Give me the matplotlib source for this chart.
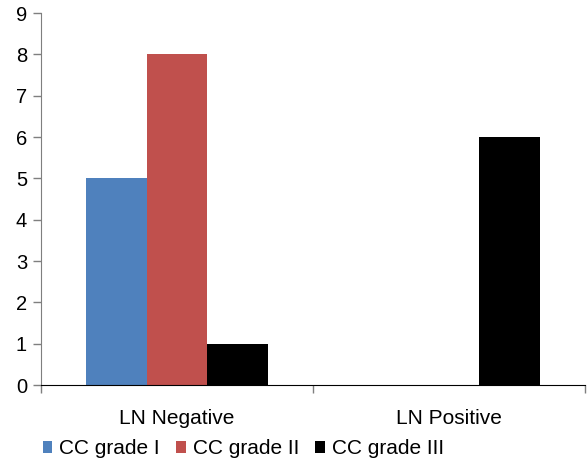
import numpy as np
import matplotlib.pyplot as plt

# data
categories = ['LN Negative', 'LN Positive']
series_names = ['CC grade I', 'CC grade II', 'CC grade III']
grade_1 = [5, 0]
grade_2 = [8, 0]
grade_3 = [1, 6]
colors = ['#4F81BD', '#C0504D', '#000000']

plt.rcParams['font.family'] = ['Liberation Sans', 'DejaVu Sans']

fig = plt.figure(figsize=(5.87, 4.66), dpi=100)
ax = fig.add_axes([0.0698, 0.1738, 0.9268, 0.7982])

x = np.arange(len(categories))
width = 0.223
for i, (vals, name) in enumerate(zip([grade_1, grade_2, grade_3], series_names)):
    ax.bar(x + (i - 1) * width, vals, width, color=colors[i], label=name)

ax.set_xlim(-0.5, len(categories) - 0.5)
ax.set_ylim(0, 9)
ax.set_yticks(range(0, 10))

# category labels, tick marks between categories
ax.set_xticks(x)
ax.set_xticklabels(categories)
ax.set_xticks(np.arange(-0.5, len(categories), 1.0), minor=True)
ax.tick_params(axis='x', which='major', length=0, pad=17, labelsize=15)
ax.tick_params(axis='x', which='minor', length=6, color='#7f7f7f', width=1)
ax.tick_params(axis='y', length=6, color='#7f7f7f', width=1, labelsize=14.5, pad=4)

for side in ['top', 'right']:
    ax.spines[side].set_visible(False)
ax.spines['left'].set_color('#7f7f7f')
ax.spines['bottom'].set_color('#000000')

fig.legend(loc='center', bbox_to_anchor=(243.5 / 587, 1 - 449 / 466), ncol=3,
           frameon=False, fontsize=15, handlelength=0.45, handleheight=0.45,
           handletextpad=0.36, columnspacing=0.77, borderaxespad=0)

plt.savefig('out.png', dpi=100)
